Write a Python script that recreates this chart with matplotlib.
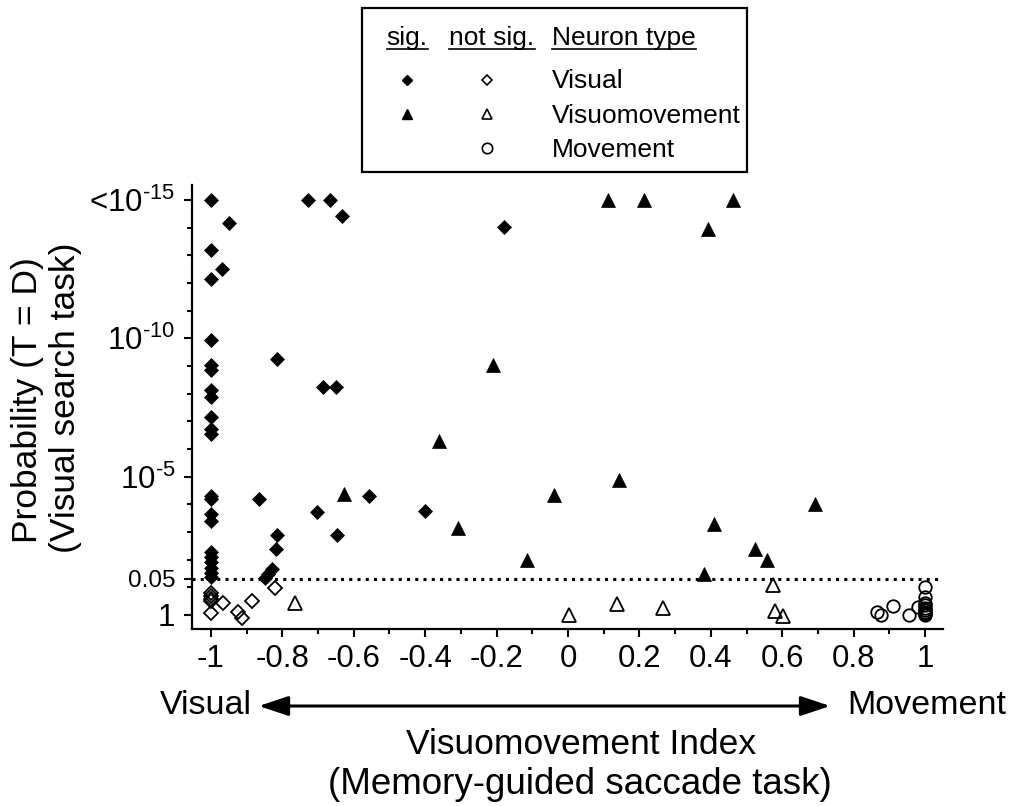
import matplotlib
matplotlib.use('Agg')
import matplotlib.pyplot as plt
from matplotlib.lines import Line2D
from matplotlib.patches import Rectangle, FancyArrowPatch

plt.rcParams['font.family'] = ['Liberation Sans', 'DejaVu Sans']
plt.rcParams['mathtext.fontset'] = 'custom'
plt.rcParams['mathtext.rm'] = 'Liberation Sans'
plt.rcParams['mathtext.default'] = 'regular'

# ---- data: x = visuomovement index, y = -log10(probability) ----
visual_sig_x = [-1.0, -0.95, -1.0, -0.968, -1.0, -1.0, -1.0, -1.0, -1.0, -1.0,
                -1.0, -1.0, -1.0, -1.0, -1.0, -1.0, -1.0, -1.0, -1.0, -1.0,
                -1.0, -1.0, -1.0, -0.727, -0.667, -0.632, -0.816, -0.685, -0.651, -0.865,
                -0.557, -0.704, -0.648, -0.816, -0.819, -0.83, -0.839, -0.849, -0.179, -0.40]
visual_sig_y = [15.0, 14.18, 13.19, 12.49, 12.13, 9.93, 9.02, 8.84, 8.12, 7.87,
                7.15, 6.73, 6.55, 4.31, 4.19, 3.65, 3.40, 2.26, 2.08, 1.90,
                1.71, 1.53, 1.38, 15.0, 15.0, 14.42, 9.26, 8.24, 8.24, 4.19,
                4.31, 3.71, 2.90, 2.90, 2.38, 1.66, 1.47, 1.35, 14.03, 3.77]

visual_ns_x = [-1.0, -1.0, -1.0, -1.0, -1.0, -0.965, -0.923, -0.914, -0.886, -0.82]
visual_ns_y = [0.78, 0.68, 0.58, 0.50, 0.08, 0.42, 0.12, -0.10, 0.51, 0.99]

vismov_sig_x = [0.113, 0.214, 0.461, 0.393, -0.209, -0.36, 0.142, -0.038, -0.307, 0.41,
                -0.116, 0.524, 0.558, 0.382, 0.692, -0.627]
vismov_sig_y = [15.0, 15.0, 15.0, 13.94, 9.02, 6.30, 4.88, 4.35, 3.13, 3.29,
                1.98, 2.38, 1.99, 1.47, 4.01, 4.37]

vismov_ns_x = [-0.765, 0.004, 0.136, 0.265, 0.575, 0.58, 0.603]
vismov_ns_y = [0.45, 0.0, 0.39, 0.27, 1.09, 0.14, -0.05]

move_ns_x = [0.865, 0.875, 0.91, 0.955, 0.98, 1.0, 1.0, 1.0, 1.0, 1.0, 1.0, 1.0, 1.0, 1.0, 1.0]
move_ns_y = [0.12, 0.0, 0.32, 0.0, 0.28, 1.0, 0.65, 0.45, 0.35, 0.25, 0.18, 0.12, 0.07, 0.03, 0.0]

sig_level = 1.30103  # -log10(0.05)
ytick_pos = [0, sig_level, 5, 10, 15]
ytick_lab = ['1', '0.05', '$10^{\u20105}$', '$10^{\u201010}$', '<$10^{\u201015}$']
xtick_pos = [-1, -0.8, -0.6, -0.4, -0.2, 0, 0.2, 0.4, 0.6, 0.8, 1]
xtick_lab = ['-1', '-0.8', '-0.6', '-0.4', '-0.2', '0', '0.2', '0.4', '0.6', '0.8', '1']

W, H = 1011, 806
def fx(px):
    return px / W
def fy(py):
    return 1 - py / H

fig = plt.figure(figsize=(W / 100, H / 100), dpi=100)
ax = fig.add_axes([fx(192), fy(629), (943 - 192) / W, (629 - 185) / H])

ax.plot(visual_ns_x, visual_ns_y, ls='none', marker='D', ms=6.8, mfc='none', mec='black', mew=1.3, clip_on=False)
ax.plot(vismov_ns_x, vismov_ns_y, ls='none', marker='^', ms=10, mfc='none', mec='black', mew=1.3, clip_on=False)
ax.plot(move_ns_x, move_ns_y, ls='none', marker='o', ms=9.0, mfc='none', mec='black', mew=1.3, clip_on=False)
ax.plot(visual_sig_x, visual_sig_y, ls='none', marker='D', ms=6.8, mfc='black', mec='black', mew=0.5, clip_on=False)
ax.plot(vismov_sig_x, vismov_sig_y, ls='none', marker='^', ms=10, mfc='black', mec='black', mew=0.5, clip_on=False)

ax.axhline(sig_level, color='black', lw=2.2, ls=(0, (1, 1.7)), dash_capstyle='butt')

ax.set_xlim(-1.053, 1.05)
ax.set_ylim(-0.506, 15.54)
ax.spines['top'].set_visible(False)
ax.spines['right'].set_visible(False)
for s in ('left', 'bottom'):
    ax.spines[s].set_linewidth(1.6)

ax.set_xticks(xtick_pos)
ax.set_xticklabels(xtick_lab, fontsize=22.5)
ax.set_xticks([-0.9, -0.7, -0.5, -0.3, -0.1, 0.1, 0.3, 0.5, 0.7, 0.9], minor=True)
ax.set_yticks(ytick_pos)
ax.set_yticklabels(ytick_lab, fontsize=22.5)
ax.set_yticks([1, 2, 3, 4, 6, 7, 8, 9, 11, 12, 13, 14], minor=True)
ax.tick_params(which='major', direction='out', length=6, width=1.5)
ax.tick_params(axis='x', which='major', pad=5)
ax.tick_params(axis='y', which='major', pad=6)
ax.tick_params(which='minor', direction='out', length=3.5, width=1.5)
ax.get_yticklabels()[1].set_fontsize(17.5)

# y label (two lines)
fig.text(fx(28), fy(400), 'Probability (T = D)', rotation=90, ha='center', va='center', fontsize=25.5)
fig.text(fx(66), fy(398), '(Visual search task)', rotation=90, ha='center', va='center', fontsize=25.5)

# x label with arrow
fig.text(fx(206), fy(706), 'Visual', ha='center', va='center', fontsize=24.5)
fig.text(fx(927), fy(706), 'Movement', ha='center', va='center', fontsize=24.5)
arrow = FancyArrowPatch((fx(256), fy(706)), (fx(833), fy(706)), transform=fig.transFigure,
                        arrowstyle='<|-|>,head_length=0.9,head_width=0.3', mutation_scale=20,
                        color='black', lw=2.2)
fig.add_artist(arrow)
fig.text(fx(581), fy(745), 'Visuomovement Index', ha='center', va='center', fontsize=25.5)
fig.text(fx(580), fy(785), '(Memory-guided saccade task)', ha='center', va='center', fontsize=26.5)

# legend box
fig.add_artist(Rectangle((fx(362), fy(172)), (747 - 362) / W, (172 - 8) / H, transform=fig.transFigure,
                         fill=False, edgecolor='black', lw=1.6))
hdr = [(407, 'center', 'sig.'), (492, 'center', 'not sig.'), (552, 'left', 'Neuron type')]
hdr_texts = []
for x, ha, t in hdr:
    hdr_texts.append(fig.text(fx(x), fy(45), t, ha=ha, va='baseline', fontsize=19))
rows = [(80, 88, 'Visual'), (114, 123, 'Visuomovement'), (148, 157, 'Movement')]
for ym, yb, t in rows:
    fig.text(fx(552), fy(yb), t, ha='left', va='baseline', fontsize=19)
fig.add_artist(Line2D([fx(407)], [fy(80)], transform=fig.transFigure, ls='none', marker='D', ms=5, mfc='black', mec='black'))
fig.add_artist(Line2D([fx(487)], [fy(80)], transform=fig.transFigure, ls='none', marker='D', ms=5, mfc='none', mec='black', mew=1.2))
fig.add_artist(Line2D([fx(407)], [fy(114)], transform=fig.transFigure, ls='none', marker='^', ms=7.5, mfc='black', mec='black'))
fig.add_artist(Line2D([fx(487)], [fy(114)], transform=fig.transFigure, ls='none', marker='^', ms=7.5, mfc='none', mec='black', mew=1.2))
fig.add_artist(Line2D([fx(487)], [fy(148)], transform=fig.transFigure, ls='none', marker='o', ms=7.5, mfc='none', mec='black', mew=1.2))

fig.canvas.draw()
r = fig.canvas.get_renderer()
for t in hdr_texts:
    bb = t.get_window_extent(r)
    fig.add_artist(Line2D([bb.x0 / W, bb.x1 / W], [fy(49), fy(49)], transform=fig.transFigure, color='black', lw=1.2))

fig.savefig('out.png', dpi=100, facecolor='white')
